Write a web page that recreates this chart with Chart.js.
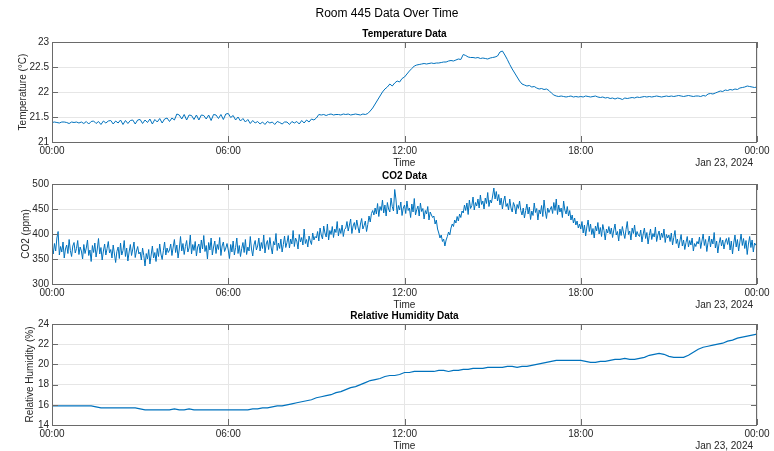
<!DOCTYPE html>
<html>
<head>
<meta charset="utf-8">
<script src="https://cdn.jsdelivr.net/npm/chart.js@4"></script>
<style>
  html, body { margin: 0; padding: 0; background: #ffffff; }
  #wrap { position: relative; width: 774px; height: 451px; background: #ffffff; }
  canvas { position: absolute; left: 0; top: 0; }
</style>
</head>
<body>
<div id="wrap">
  <canvas id="c1" width="774" height="451"></canvas>
  <canvas id="c2" width="774" height="451"></canvas>
  <canvas id="c3" width="774" height="451"></canvas>
</div>
<script>
// ---- Data (one day: 00:00 to 00:00 next day) ----
const timeTickLabels = ['00:00', '06:00', '12:00', '18:00', '00:00'];
const dateLabel = 'Jan 23, 2024';

// Temperature (°C), every 5 minutes
const temperatureC = [
  21.39,21.40,21.39,21.38,21.40,21.40,21.39,21.37,21.40,21.39,21.40,21.38,
  21.40,21.37,21.41,21.36,21.41,21.42,21.37,21.41,21.35,21.42,21.38,21.42,
  21.43,21.36,21.42,21.38,21.44,21.35,21.43,21.37,21.43,21.44,21.36,21.44,
  21.45,21.37,21.44,21.39,21.46,21.36,21.45,21.40,21.47,21.38,21.46,21.48,
  21.41,21.48,21.44,21.56,21.54,21.46,21.55,21.44,21.54,21.53,21.45,21.54,
  21.44,21.54,21.53,21.46,21.54,21.43,21.55,21.54,21.47,21.55,21.45,21.56,
  21.57,21.49,21.53,21.44,21.50,21.42,21.47,21.40,21.45,21.37,21.43,21.38,
  21.41,21.36,21.40,21.35,21.41,21.38,21.40,21.35,21.41,21.39,21.36,21.40,
  21.40,21.35,21.41,21.38,21.41,21.36,21.43,21.38,21.44,21.40,21.46,21.44,
  21.48,21.55,21.54,21.55,21.53,21.55,21.56,21.54,21.55,21.55,21.54,21.56,
  21.55,21.56,21.54,21.55,21.56,21.55,21.54,21.56,21.55,21.57,21.62,21.68,
  21.76,21.84,21.92,22.00,22.06,22.10,22.16,22.12,22.18,22.22,22.20,22.27,
  22.30,22.36,22.42,22.47,22.52,22.54,22.55,22.56,22.57,22.56,22.57,22.58,
  22.57,22.58,22.58,22.59,22.60,22.60,22.62,22.63,22.62,22.64,22.66,22.65,
  22.75,22.73,22.70,22.69,22.69,22.68,22.69,22.67,22.68,22.67,22.66,22.68,
  22.69,22.70,22.72,22.80,22.82,22.74,22.65,22.55,22.46,22.38,22.30,22.22,
  22.16,22.14,22.12,22.13,22.10,22.11,22.08,22.06,22.07,22.05,22.06,22.03,
  21.98,21.94,21.92,21.91,21.92,21.91,21.90,21.91,21.92,21.90,21.91,21.90,
  21.91,21.90,21.92,21.91,21.90,21.91,21.92,21.90,21.89,21.90,21.88,21.89,
  21.87,21.88,21.86,21.88,21.87,21.85,21.88,21.87,21.88,21.89,21.88,21.90,
  21.89,21.90,21.91,21.90,21.91,21.90,21.91,21.92,21.91,21.90,21.91,21.92,
  21.91,21.92,21.91,21.92,21.93,21.92,21.91,21.92,21.93,21.92,21.91,21.92,
  21.92,21.91,21.93,21.92,21.96,21.97,21.96,21.98,22.00,22.02,22.01,22.04,
  22.03,22.05,22.04,22.06,22.05,22.08,22.09,22.10,22.12,22.11,22.10,22.09,
  22.10
];

// CO2 (ppm), every 2.5 minutes
const co2ppm = [
  372,360,381,366,392,405,358,375,364,384,352,370,378,361,389,367,355,376,383,362,371,387,359,374,
  366,350,379,361,372,388,357,368,345,377,363,382,354,370,391,360,373,348,366,380,358,371,385,362,
  369,352,378,360,343,365,374,351,382,358,367,387,355,372,346,364,379,357,370,384,353,366,375,360,
  364,348,372,357,336,361,350,369,340,358,376,352,363,345,371,355,380,360,349,367,384,358,372,363,
  368,380,357,374,389,363,378,352,370,395,366,381,359,375,387,364,372,398,360,379,367,385,356,374,
  380,362,388,370,397,365,377,350,383,368,392,358,374,386,361,379,369,393,357,376,384,365,372,381,
  368,351,379,364,386,358,373,392,361,377,355,371,383,363,389,359,374,366,395,370,356,378,387,368,
  376,392,366,383,371,398,362,380,387,369,393,374,360,385,378,401,367,382,371,390,364,379,396,373,
  383,397,372,390,380,407,375,392,386,370,399,384,393,378,410,381,389,374,396,386,379,402,388,395,
  392,405,386,412,398,390,416,402,394,420,388,407,399,415,393,410,403,425,396,411,401,418,395,409,
  412,425,406,418,430,401,416,423,409,428,414,402,420,431,410,417,426,405,419,436,424,441,447,438,
  452,440,461,435,455,447,468,442,458,436,463,450,444,472,455,446,489,470,440,457,448,464,437,452,
  458,441,466,447,452,433,460,444,471,438,449,456,436,462,445,451,430,447,440,455,428,444,438,433,
  436,420,428,410,402,392,398,385,390,376,388,395,404,398,412,420,415,428,422,435,426,440,433,446,
  442,458,447,462,439,468,451,457,474,448,463,456,470,452,478,459,466,450,472,461,483,455,468,462,
  476,492,470,485,466,479,458,472,450,466,476,455,461,448,470,452,444,463,456,440,459,451,466,447,
  438,452,432,447,460,440,454,429,446,437,462,443,451,428,448,440,457,435,468,446,431,452,443,449,
  455,441,463,447,470,439,458,444,452,433,466,448,440,455,436,447,428,438,422,432,418,426,412,420,
  410,425,402,418,396,414,428,405,420,399,411,392,416,406,423,400,413,395,419,407,388,410,402,415,
  400,412,393,408,420,398,405,386,410,397,415,402,391,409,425,399,406,388,412,401,418,394,405,398,
  395,408,384,400,412,391,403,380,397,410,389,401,394,414,385,398,406,388,402,393,410,383,399,392,
  398,385,402,378,393,407,381,390,372,386,399,376,388,369,383,395,374,387,378,392,366,381,375,385,
  380,394,371,386,400,377,389,365,383,396,374,390,380,403,372,386,362,381,393,376,388,370,384,391,
  379,393,368,386,360,382,398,374,389,366,384,400,377,391,371,387,359,380,395,373,388,364,382,378,
  380
];

// Relative humidity (%), every 10 minutes
const humidityPct = [
  15.9,15.9,15.9,15.9,15.9,15.9,
  15.9,15.9,15.9,15.8,15.7,15.7,
  15.7,15.7,15.7,15.7,15.7,15.7,
  15.6,15.5,15.5,15.5,15.5,15.5,
  15.5,15.6,15.5,15.5,15.6,15.5,
  15.5,15.5,15.5,15.5,15.5,15.5,
  15.5,15.5,15.5,15.5,15.5,15.6,
  15.6,15.7,15.7,15.8,15.9,15.9,
  16.0,16.1,16.2,16.3,16.4,16.5,
  16.7,16.8,16.9,17.0,17.2,17.3,
  17.5,17.7,17.8,18.0,18.2,18.4,
  18.5,18.6,18.8,18.9,18.9,19.0,
  19.2,19.2,19.3,19.3,19.3,19.3,
  19.3,19.4,19.4,19.3,19.4,19.4,
  19.5,19.5,19.6,19.6,19.6,19.7,
  19.7,19.7,19.7,19.8,19.8,19.7,
  19.8,19.8,19.9,20.0,20.1,20.2,
  20.3,20.4,20.4,20.4,20.4,20.4,
  20.4,20.3,20.2,20.2,20.3,20.3,
  20.4,20.5,20.5,20.6,20.5,20.5,
  20.6,20.7,20.9,21.0,21.1,21.0,
  20.8,20.7,20.7,20.7,20.9,21.2,
  21.5,21.7,21.8,21.9,22.0,22.1,
  22.3,22.4,22.6,22.7,22.8,22.9,
  23.0
];

const tempTicks = [21, 21.5, 22, 22.5, 23];
const co2Ticks = [300, 350, 400, 450, 500];
const humTicks = [14, 16, 18, 20, 22, 24];

// ---- Rendering ----
const FONT = '"Liberation Sans", Arial, Helvetica, sans-serif';
Chart.defaults.font.family = FONT;
Chart.defaults.font.size = 10;
Chart.defaults.color = '#262626';

const DAY_MIN = 1440;
function toPoints(arr) {
  const dt = DAY_MIN / (arr.length - 1);
  return arr.map((v, i) => ({ x: i * dt, y: v }));
}

const decor = {
  id: 'decor',
  afterDraw(chart, args, o) {
    const { ctx, chartArea: a, scales: { x, y } } = chart;
    ctx.save();
    ctx.strokeStyle = '#6a6a6a';
    ctx.lineWidth = 1;
    ctx.beginPath();
    x.ticks.forEach(t => {
      const px = Math.round(x.getPixelForValue(t.value)) + 0.5;
      ctx.moveTo(px, a.bottom); ctx.lineTo(px, a.bottom - 6);
      ctx.moveTo(px, a.top); ctx.lineTo(px, a.top + 6);
    });
    y.ticks.forEach(t => {
      const py = Math.round(y.getPixelForValue(t.value)) + 0.5;
      ctx.moveTo(a.left, py); ctx.lineTo(a.left + 6, py);
      ctx.moveTo(a.right, py); ctx.lineTo(a.right - 6, py);
    });
    ctx.stroke();
    ctx.strokeRect(Math.round(a.left) + 0.5, Math.round(a.top) + 0.5,
                   Math.round(a.right - a.left) - 1, Math.round(a.bottom - a.top));
    const cx = (a.left + a.right) / 2;
    ctx.fillStyle = '#000000';
    ctx.textBaseline = 'middle';
    ctx.textAlign = 'center';
    if (o.main) {
      ctx.font = '12px ' + FONT;
      ctx.fillText(o.main, 387, 14);
    }
    ctx.font = 'bold 10px ' + FONT;
    ctx.fillText(o.title, cx, a.top - 7.5);
    ctx.fillStyle = '#262626';
    ctx.font = '10px ' + FONT;
    ctx.fillText('Time', cx, a.bottom + 21.5);
    ctx.textAlign = 'right';
    ctx.fillText(dateLabel, 753, a.bottom + 21.5);
    ctx.translate(o.ylabelX, (a.top + a.bottom) / 2);
    ctx.rotate(-Math.PI / 2);
    ctx.textAlign = 'center';
    ctx.fillText(o.ylabel, 0, 0);
    ctx.restore();
  }
};

const panels = [
  { id: 'c1', main: 'Room 445 Data Over Time', title: 'Temperature Data', ylabel: 'Temperature (°C)',
    ylabelX: 23, data: temperatureC, ticks: tempTicks, top: 42, bottom: 142, lw: 1 },
  { id: 'c2', title: 'CO2 Data', ylabel: 'CO2 (ppm)',
    ylabelX: 26, data: co2ppm, ticks: co2Ticks, top: 184, bottom: 284, lw: 1 },
  { id: 'c3', title: 'Relative Humidity Data', ylabel: 'Relative Humidity (%)',
    ylabelX: 30, data: humidityPct, ticks: humTicks, top: 324, bottom: 425, lw: 1.2 }
];

panels.forEach(p => {
  const tk = p.ticks;
  new Chart(document.getElementById(p.id), {
    type: 'line',
    data: {
      datasets: [{
        data: toPoints(p.data),
        borderColor: '#0072BD',
        borderWidth: p.lw,
        pointRadius: 0,
        tension: 0,
        fill: false
      }]
    },
    options: {
      responsive: false,
      animation: false,
      events: [],
      layout: { padding: { top: p.top, right: 17, left: 0, bottom: 0 } },
      plugins: {
        legend: { display: false },
        tooltip: { enabled: false },
        title: { display: false },
        decor: { main: p.main, title: p.title, ylabel: p.ylabel, ylabelX: p.ylabelX }
      },
      scales: {
        x: {
          type: 'linear',
          min: 0, max: DAY_MIN,
          ticks: {
            stepSize: DAY_MIN / (timeTickLabels.length - 1),
            autoSkip: false, maxRotation: 0, padding: 3,
            callback: (v, i) => timeTickLabels[i]
          },
          grid: { color: '#e6e6e6', drawTicks: false },
          border: { display: false },
          afterFit: s => { s.height = 451 - p.bottom; }
        },
        y: {
          min: tk[0], max: tk[tk.length - 1],
          afterBuildTicks: s => { s.ticks = tk.map(v => ({ value: v })); },
          ticks: { padding: 3, callback: v => String(v) },
          grid: { color: '#e6e6e6', drawTicks: false },
          border: { display: false },
          afterFit: s => { s.width = 52; }
        }
      }
    },
    plugins: [decor]
  });
});
</script>
</body>
</html>
